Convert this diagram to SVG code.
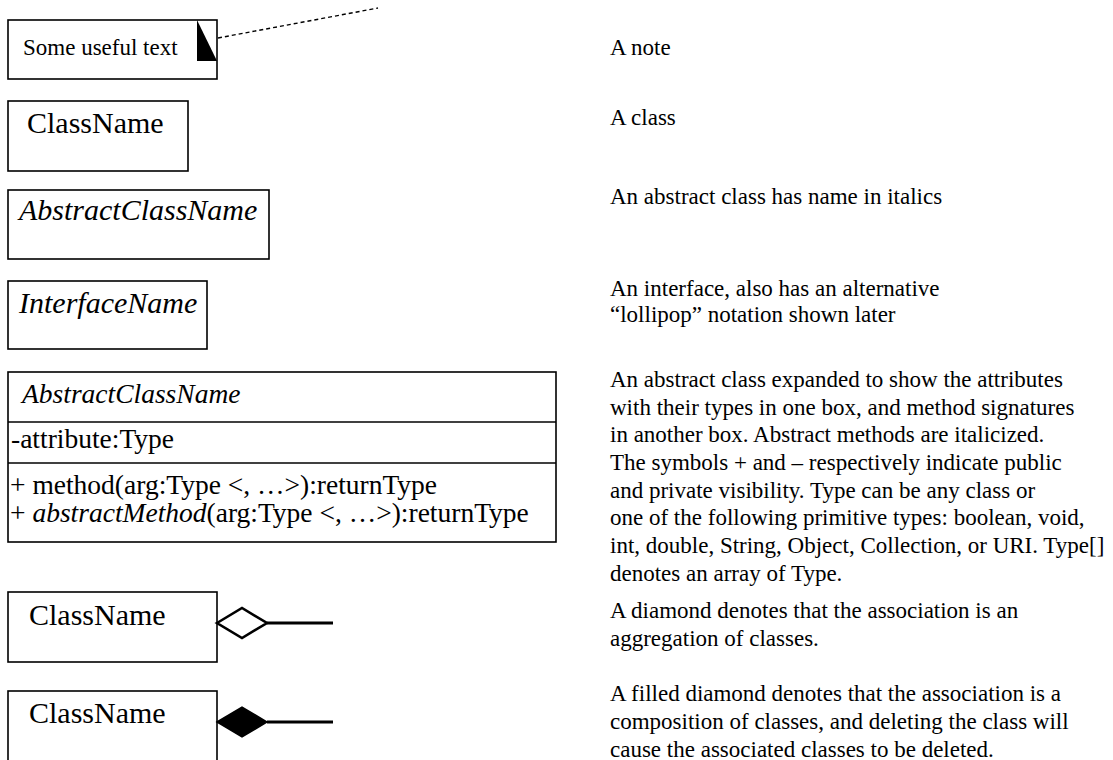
<svg xmlns="http://www.w3.org/2000/svg" width="1113" height="760" viewBox="0 0 1113 760">
<style>
  .box { fill: #ffffff; stroke: #000000; stroke-width: 1.6; }
  .t { font-family: "Liberation Serif", "Times New Roman", serif; fill: #000000; }
  .desc { font-size: 23px; }
  .name { font-size: 30px; }
  .big { font-size: 27.5px; }
  .it { font-style: italic; }
  .line { stroke: #000000; stroke-width: 1.6; fill: none; }
  .dash { stroke: #000000; stroke-width: 1.4; stroke-dasharray: 4 3; fill: none; }
  .assoc { stroke: #000000; stroke-width: 3; fill: none; }
</style>
<rect width="1113" height="760" fill="#ffffff"/>

<g id="connectors">
  <line class="dash" x1="218" y1="38" x2="378" y2="8"/>
  <line class="assoc" x1="267" y1="623" x2="333" y2="623"/>
  <line class="assoc" x1="267" y1="722" x2="333" y2="722"/>
</g>

<g id="note">
  <rect class="box" x="8" y="20" width="209" height="59"/>
  <polygon points="197,20 197,61 217,61" fill="#000000"/>
  <text class="t desc" x="23" y="55">Some useful text</text>
</g>

<g id="class">
  <rect class="box" x="8" y="101" width="180" height="70"/>
  <text class="t name" x="27" y="133">ClassName</text>
</g>

<g id="abstract-class">
  <rect class="box" x="8" y="190" width="261" height="69"/>
  <text class="t name it" x="19" y="220">AbstractClassName</text>
</g>

<g id="interface">
  <rect class="box" x="8" y="281" width="199" height="68"/>
  <text class="t name it" x="19" y="313">InterfaceName</text>
</g>

<g id="expanded-class">
  <rect class="box" x="8" y="372" width="548" height="170"/>
  <line class="line" x1="8" y1="422" x2="556" y2="422"/>
  <line class="line" x1="8" y1="463" x2="556" y2="463"/>
  <text class="t big it" x="22" y="403">AbstractClassName</text>
  <text class="t big" x="11" y="448">-attribute:Type</text>
  <text class="t big" x="10" y="494">+ method(arg:Type &lt;, …&gt;):returnType</text>
  <text class="t big" x="10" y="522">+ <tspan class="it">abstractMethod</tspan>(arg:Type &lt;, …&gt;):returnType</text>
</g>

<g id="aggregation-class">
  <rect class="box" x="8" y="592" width="209" height="70"/>
  <text class="t name" x="29" y="625">ClassName</text>
  <polygon points="217,623 242,608 267,623 242,638" fill="#ffffff" stroke="#000000" stroke-width="2.6"/>
</g>

<g id="composition-class">
  <rect class="box" x="8" y="691" width="209" height="72"/>
  <text class="t name" x="29" y="723">ClassName</text>
  <polygon points="217,722 242,707 267,722 242,737" fill="#000000" stroke="#000000" stroke-width="1.5"/>
</g>

<g id="descriptions" class="t desc">
  <text x="610" y="55">A note</text>
  <text x="610" y="125">A class</text>
  <text x="610" y="204">An abstract class has name in italics</text>
  <text x="610" y="296">An interface, also has an alternative</text>
  <text x="610" y="322">“lollipop” notation shown later</text>
  <text x="610" y="387">An abstract class expanded to show the attributes</text>
  <text x="610" y="415">with their types in one box, and method signatures</text>
  <text x="610" y="442">in another box. Abstract methods are italicized.</text>
  <text x="610" y="470">The symbols + and – respectively indicate public</text>
  <text x="610" y="498">and private visibility. Type can be any class or</text>
  <text x="610" y="525">one of the following primitive types: boolean, void,</text>
  <text x="610" y="553">int, double, String, Object, Collection, or URI. Type[]</text>
  <text x="610" y="581">denotes an array of Type.</text>
  <text x="610" y="618">A diamond denotes that the association is an</text>
  <text x="610" y="646">aggregation of classes.</text>
  <text x="610" y="701">A filled diamond denotes that the association is a</text>
  <text x="610" y="729">composition of classes, and deleting the class will</text>
  <text x="610" y="757">cause the associated classes to be deleted.</text>
</g>
</svg>
